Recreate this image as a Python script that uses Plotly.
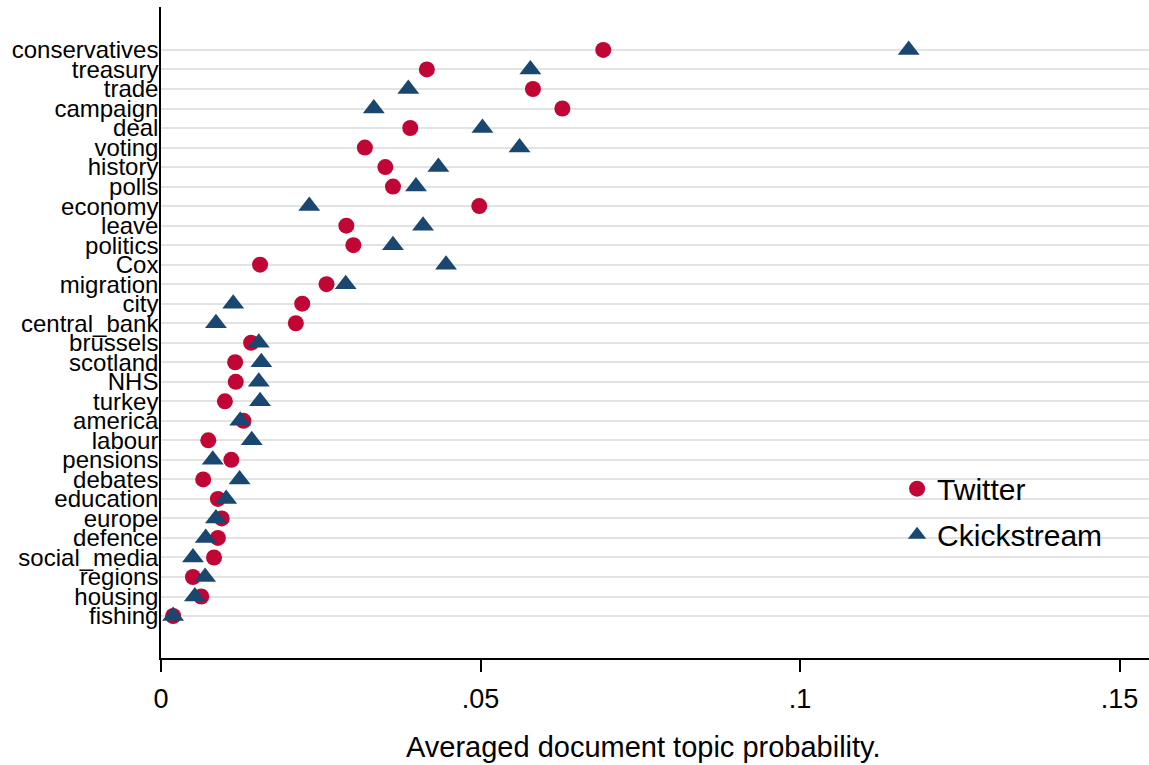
import plotly.graph_objects as go

topics = ["conservatives", "treasury", "trade", "campaign", "deal", "voting", "history",
          "polls", "economy", "leave", "politics", "Cox", "migration", "city", "central_bank",
          "brussels", "scotland", "NHS", "turkey", "america", "labour", "pensions", "debates",
          "education", "europe", "defence", "social_media", "regions", "housing", "fishing"]

twitter = [0.0692, 0.0416, 0.0582, 0.0628, 0.0390, 0.0319, 0.0351,
           0.0363, 0.0498, 0.0290, 0.0301, 0.0155, 0.0259, 0.0221, 0.0211,
           0.0141, 0.0116, 0.0117, 0.0100, 0.0129, 0.0074, 0.0110, 0.0066,
           0.0089, 0.0095, 0.0089, 0.0083, 0.0050, 0.0063, 0.0019]

clickstream = [0.1170, 0.0578, 0.0387, 0.0333, 0.0503, 0.0561, 0.0434,
               0.0399, 0.0232, 0.0410, 0.0363, 0.0446, 0.0289, 0.0113, 0.0086,
               0.0153, 0.0157, 0.0153, 0.0155, 0.0124, 0.0142, 0.0081, 0.0123,
               0.0102, 0.0086, 0.0070, 0.0050, 0.0069, 0.0053, 0.0019]

x_ticks = [0, 0.05, 0.1, 0.15]
x_ticklabels = ["0", ".05", ".1", ".15"]
x_title = "Averaged document topic probability."

RED = "#C10534"
NAVY = "#1A476F"

fig = go.Figure()
fig.add_trace(go.Scatter(
    x=twitter, y=topics, mode="markers", name="Twitter", legendgroup="a",
    marker=dict(symbol="circle", size=16, color=RED, line=dict(width=0)),
))
fig.add_trace(go.Scatter(
    x=clickstream, y=topics, mode="markers", name="Ckickstream", legendgroup="b",
    marker=dict(symbol="triangle-up", size=19, color=NAVY, line=dict(width=0)),
))

fig.add_annotation(
    text=x_title, xref="paper", yref="paper", x=0.4884, y=-0.1367,
    xanchor="center", yanchor="middle", showarrow=False, font=dict(size=29),
)

fig.update_layout(
    width=1149, height=765,
    margin=dict(l=161, r=0, t=7, b=107),
    paper_bgcolor="white", plot_bgcolor="white",
    font=dict(family="Arial, Liberation Sans, sans-serif", color="black"),
    showlegend=True,
    legend=dict(
        x=0.745, y=0.300, xanchor="left", yanchor="top",
        bgcolor="rgba(0,0,0,0)", font=dict(size=30),
        traceorder="grouped", tracegroupgap=4, itemwidth=30,
    ),
    xaxis=dict(
        range=[0, 0.1546], tickvals=x_ticks, ticktext=x_ticklabels,
        showgrid=False, zeroline=False,
        showline=True, linecolor="black", linewidth=1.5,
        ticks="outside", ticklen=12, tickwidth=1.5, tickcolor="black",
        tickfont=dict(size=27), ticklabelstandoff=4,
    ),
    yaxis=dict(
        categoryorder="array", categoryarray=topics,
        tickmode="array", tickvals=topics, ticktext=topics,
        range=[31.15, -2.2],
        showgrid=True, gridcolor="#E3E3E3", gridwidth=1.5,
        zeroline=False, showline=True, linecolor="black", linewidth=1.5,
        ticks="", tickfont=dict(size=24), ticklabelstandoff=-4,
    ),
)

fig.write_html("out.html")
